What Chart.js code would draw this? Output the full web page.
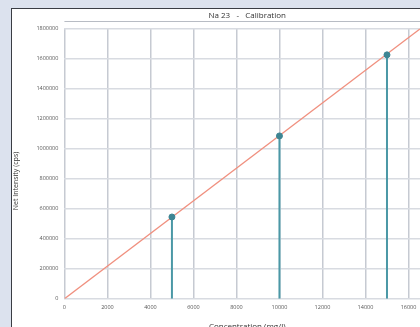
<!DOCTYPE html>
<html>
<head>
<meta charset="utf-8">
<title>Na 23 - Calibration</title>
<script src="https://cdn.jsdelivr.net/npm/chart.js@4/dist/chart.umd.min.js"></script>
<style>
    html, body {
        margin: 0;
        padding: 0;
        width: 420px;
        height: 327px;
        overflow: hidden;
        background: #dce2ee;
    }
    .panel {
        position: absolute;
        left: 11px;
        top: 8px;
        width: 440px;
        height: 330px;
        background: #fff;
        border-left: 1.5px solid #3a3d44;
        border-top: 1.5px solid #3a3d44;
    }
    .chart-box {
        position: absolute;
        left: -12px;
        top: -9px;
        width: 435px;
        height: 336px;
    }
</style>
</head>
<body>
<div class="panel">
    <div class="chart-box">
        <canvas id="calibChart"></canvas>
    </div>
</div>
<script>
// Calibration standards (concentration mg/l, net intensity cps)
const concentrations = [5000, 10000, 15000];
const intensities = [545000, 1085000, 1625000];

// Fitted calibration line
const fitX = [0, 16560];
const fitY = [0, 1800000];

// Axis ticks
const xTicks = [0, 2000, 4000, 6000, 8000, 10000, 12000, 14000, 16000];
const yTicks = [0, 200000, 400000, 600000, 800000, 1000000, 1200000, 1400000, 1600000, 1800000];

const stemColor = '#4b98a6';
const pointColor = '#3e8593';
const fitColor = '#f0907f';

// Stems drawn from the x axis up to each standard
const stemSets = concentrations.map((c, i) => ({
    type: 'scatter',
    data: [{ x: c, y: 0 }, { x: c, y: intensities[i] }],
    showLine: true,
    borderColor: stemColor,
    borderWidth: 2,
    pointRadius: 0,
    order: 2
}));

// Thin rule under the title
const titleRule = {
    id: 'titleRule',
    afterDraw(chart) {
        const ctx = chart.ctx;
        ctx.save();
        ctx.strokeStyle = '#b8bcc4';
        ctx.lineWidth = 1;
        ctx.beginPath();
        ctx.moveTo(chart.chartArea.left, 21.5);
        ctx.lineTo(chart.width, 21.5);
        ctx.stroke();
        ctx.restore();
    }
};

const ctx = document.getElementById('calibChart').getContext('2d');
new Chart(ctx, {
    type: 'scatter',
    data: {
        datasets: [
            {
                data: fitX.map((x, i) => ({ x: x, y: fitY[i] })),
                showLine: true,
                borderColor: fitColor,
                borderWidth: 1.3,
                pointRadius: 0,
                order: 3
            },
            ...stemSets,
            {
                data: concentrations.map((c, i) => ({ x: c, y: intensities[i] })),
                pointRadius: 3,
                pointBackgroundColor: pointColor,
                pointBorderColor: pointColor,
                order: 1
            }
        ]
    },
    options: {
        responsive: true,
        maintainAspectRatio: false,
        animation: false,
        layout: { padding: { top: 0, right: 0, left: 12, bottom: 0 } },
        plugins: {
            legend: { display: false },
            tooltip: { enabled: false },
            title: {
                display: true,
                fullSize: false,
                text: 'Na 23   -   Calibration',
                color: '#333',
                font: { family: 'Open Sans', size: 8, weight: 'normal' },
                padding: { top: 11, bottom: 8 }
            }
        },
        scales: {
            x: {
                type: 'linear',
                min: 0,
                max: 17000,
                afterBuildTicks: (scale) => { scale.ticks = xTicks.map(v => ({ value: v })); },
                ticks: {
                    color: '#555',
                    font: { family: 'Open Sans', size: 5.5 },
                    maxRotation: 0,
                    padding: 5,
                    callback: (v) => v
                },
                grid: { color: '#c6cad2', lineWidth: 1.5, drawTicks: false },
                border: { display: false },
                title: {
                    display: true,
                    text: 'Concentration (mg/l)',
                    color: '#333',
                    font: { family: 'Open Sans', size: 8 },
                    padding: { top: 7 }
                }
            },
            y: {
                min: 0,
                max: 1800000,
                afterBuildTicks: (scale) => { scale.ticks = yTicks.map(v => ({ value: v })); },
                ticks: {
                    color: '#555',
                    font: { family: 'Open Sans', size: 5.5 },
                    padding: 6,
                    callback: (v) => v
                },
                grid: { color: '#d8dbe1', lineWidth: 1.5, drawTicks: false },
                border: { display: false },
                title: {
                    display: true,
                    text: 'Net Intensity (cps)                   ',
                    color: '#333',
                    font: { family: 'Open Sans', size: 7 },
                    padding: { top: 0, bottom: 10 }
                }
            }
        }
    },
    plugins: [titleRule]
});
</script>
</body>
</html>
